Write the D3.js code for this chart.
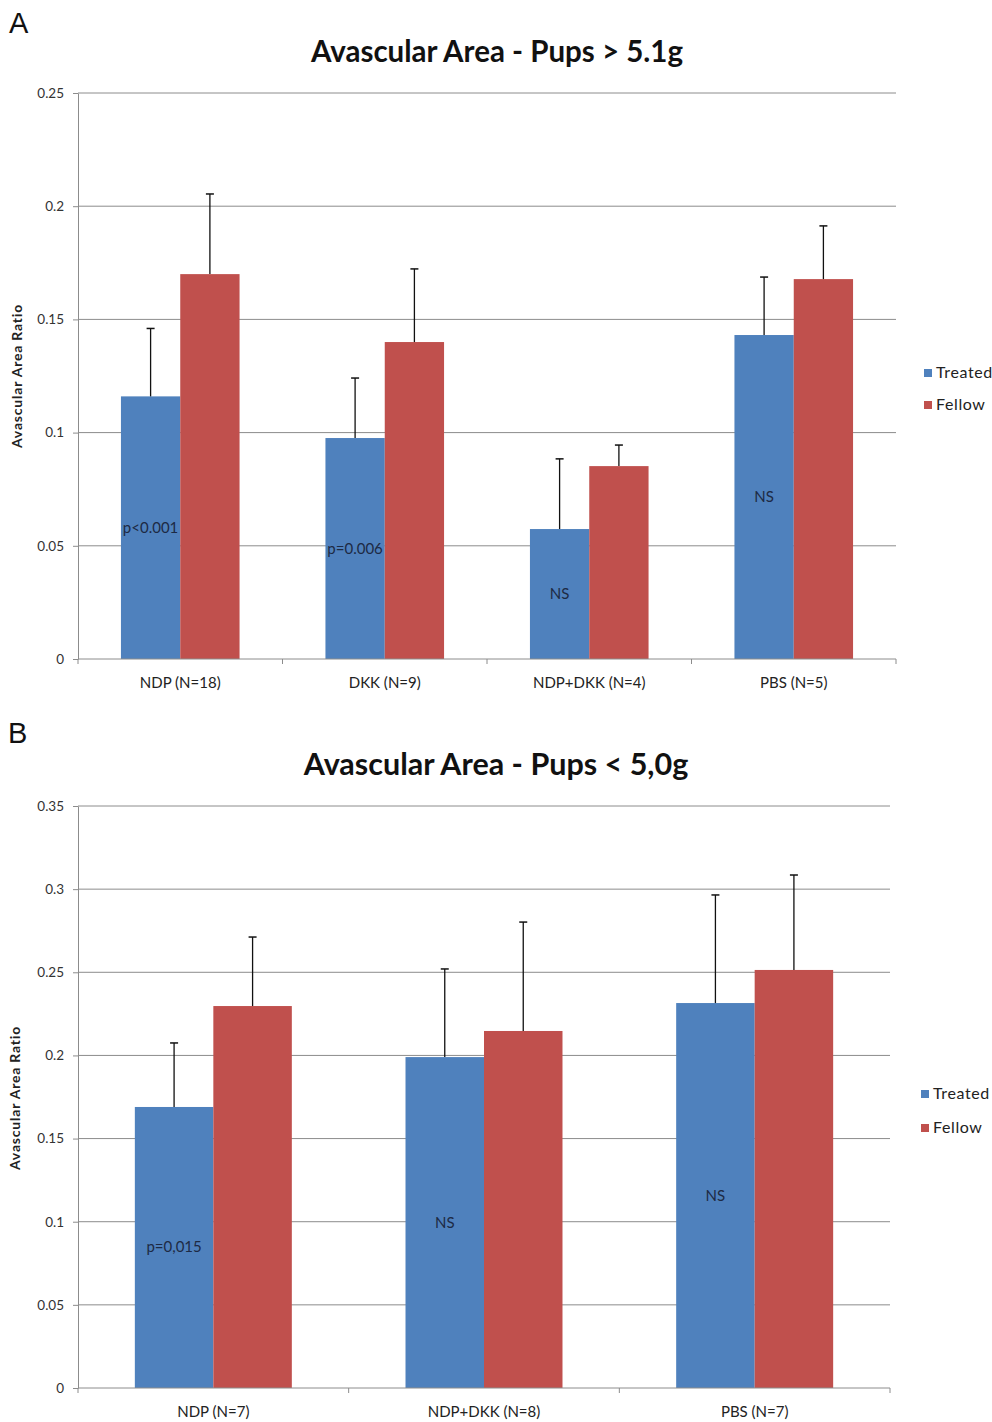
<!DOCTYPE html>
<html><head><meta charset="utf-8">
<script src="https://cdn.jsdelivr.net/npm/d3@7"></script>
<style>body{margin:0;background:#fff}</style>
</head><body>
<svg id="c" width="992" height="1422"></svg>
<script>
// ---- Data ----
const seriesNames = ["Treated", "Fellow"];
const colors = ["#4F81BD", "#C0504D"];

const catsA = ["NDP (N=18)", "DKK (N=9)", "NDP+DKK (N=4)", "PBS (N=5)"];
const treatedA = [0.116, 0.0976, 0.0574, 0.1431];
const fellowA = [0.170, 0.140, 0.0852, 0.1678];
const treatedErrA = [0.030, 0.0265, 0.031, 0.0256];
const fellowErrA = [0.0354, 0.0323, 0.0093, 0.0235];
const labelsA = ["p<0.001", "p=0.006", "NS", "NS"];
const ticksA = [0, 0.05, 0.1, 0.15, 0.2, 0.25];

const catsB = ["NDP (N=7)", "NDP+DKK (N=8)", "PBS (N=7)"];
const treatedB = [0.169, 0.199, 0.2315];
const fellowB = [0.2297, 0.2147, 0.2514];
const treatedErrB = [0.0385, 0.053, 0.065];
const fellowErrB = [0.0415, 0.0655, 0.0571];
const labelsB = ["p=0,015", "NS", "NS"];
const ticksB = [0, 0.05, 0.1, 0.15, 0.2, 0.25, 0.3, 0.35];

const svg = d3.select("#c");
const font = "Lato, 'Open Sans', sans-serif";

function panel(opt) {
  const g = svg.append("g");
  const x = d3.scaleBand().domain(opt.cats).range([opt.x0, opt.x1]).paddingInner(0.42).paddingOuter(0.21);
  const y = d3.scaleLinear().domain([0, opt.ymax]).range([opt.y0, opt.y1]);
  const s = d3.scaleBand().domain(seriesNames).range([0, x.bandwidth()]);

  g.append("text").attr("x", opt.letterX).attr("y", opt.letterY).text(opt.letter)
    .attr("font-family", "'Liberation Sans', Arial, sans-serif").attr("font-size", 29).attr("fill", "#111");
  g.append("text").attr("x", opt.titleX).attr("y", opt.titleY).attr("text-anchor", "middle")
    .text(opt.title).attr("font-family", font).attr("font-weight", "bold").attr("font-size", opt.titleSize).attr("fill", "#111");

  g.selectAll(".grid").data(opt.ticks.filter(t => t > 0)).join("line")
    .attr("x1", opt.x0).attr("x2", opt.x1).attr("y1", d => y(d)).attr("y2", d => y(d))
    .attr("stroke", "#8c8c8c").attr("stroke-width", 1);

  const ya = d3.axisLeft(y).tickValues(opt.ticks).tickFormat(d => d3.format("")(+d.toFixed(2))).tickSize(5).tickSizeOuter(0);
  const yg = g.append("g").attr("transform", `translate(${opt.x0},0)`).call(ya);
  yg.select(".domain").attr("stroke", "#8c8c8c");
  yg.selectAll(".tick line").attr("stroke", "#8c8c8c");
  yg.selectAll(".tick text").attr("font-family", font).attr("font-size", 13.5).attr("fill", "#333").attr("dx", -6);

  const data = opt.cats.map((c, i) => [
    {c, k: "Treated", v: opt.t[i], e: opt.te[i]},
    {c, k: "Fellow", v: opt.f[i], e: opt.fe[i]}]).flat();
  g.selectAll(".bar").data(data).join("rect")
    .attr("x", d => x(d.c) + s(d.k)).attr("width", s.bandwidth())
    .attr("y", d => y(d.v)).attr("height", d => y(0) - y(d.v))
    .attr("fill", d => colors[seriesNames.indexOf(d.k)]);

  const cx = d => x(d.c) + s(d.k) + s.bandwidth() / 2;
  const eb = g.selectAll(".eb").data(data).join("g");
  eb.append("line").attr("x1", cx).attr("x2", cx)
    .attr("y1", d => y(d.v)).attr("y2", d => y(d.v + d.e)).attr("stroke", "#111").attr("stroke-width", 1.3);
  eb.append("line").attr("x1", d => cx(d) - 4).attr("x2", d => cx(d) + 4)
    .attr("y1", d => y(d.v + d.e)).attr("y2", d => y(d.v + d.e)).attr("stroke", "#111").attr("stroke-width", 1.5);

  g.selectAll(".lbl").data(opt.cats).join("text")
    .attr("x", (d) => x(d) + s("Treated") + s.bandwidth() / 2)
    .attr("y", (d, i) => y(opt.t[i] / 2) + 5)
    .attr("text-anchor", "middle").text((d, i) => opt.labels[i])
    .attr("font-family", font).attr("font-size", 15).attr("fill", "#1d2a44");

  const xg = g.append("g").attr("transform", `translate(0,${opt.y0})`);
  xg.append("line").attr("x1", opt.x0).attr("x2", opt.x1).attr("stroke", "#8c8c8c");
  xg.selectAll(".xt").data(d3.range(opt.cats.length + 1)).join("line")
    .attr("x1", i => opt.x0 + i * (opt.x1 - opt.x0) / opt.cats.length)
    .attr("x2", i => opt.x0 + i * (opt.x1 - opt.x0) / opt.cats.length)
    .attr("y1", 0).attr("y2", 5).attr("stroke", "#8c8c8c");
  xg.selectAll(".xl").data(opt.cats).join("text")
    .attr("x", d => x(d) + x.bandwidth() / 2).attr("y", 29).attr("text-anchor", "middle")
    .text(d => d).attr("font-family", font).attr("font-size", 15).attr("fill", "#222");

  g.append("text").attr("transform", `translate(${opt.ytX},${opt.ytY}) rotate(-90)`).attr("text-anchor", "middle")
    .text("Avascular Area Ratio").attr("font-family", font).attr("font-weight", "bold").attr("font-size", 14)
    .attr("letter-spacing", 0.8).attr("fill", "#222");

  const lg = g.append("g");
  seriesNames.forEach((n, i) => {
    lg.append("rect").attr("x", opt.legX).attr("y", opt.legY + i * opt.legDy - 9).attr("width", 8).attr("height", 8).attr("fill", colors[i]);
    lg.append("text").attr("x", opt.legX + 12).attr("y", opt.legY + i * opt.legDy).text(n)
      .attr("font-family", font).attr("font-size", 16).attr("letter-spacing", 0.6).attr("fill", "#222");
  });
}

panel({letter: "A", letterX: 9, letterY: 33, title: "Avascular Area - Pups > 5.1g", titleX: 497, titleY: 62, titleSize: 29.5,
  cats: catsA, t: treatedA, f: fellowA, te: treatedErrA, fe: fellowErrA, labels: labelsA,
  ticks: ticksA, ymax: 0.25, x0: 78, x1: 896, y0: 659, y1: 93, ytX: 22, ytY: 376,
  legX: 924, legY: 378, legDy: 32});

panel({letter: "B", letterX: 8, letterY: 743, title: "Avascular Area - Pups < 5,0g", titleX: 496, titleY: 775, titleSize: 30.5,
  cats: catsB, t: treatedB, f: fellowB, te: treatedErrB, fe: fellowErrB, labels: labelsB,
  ticks: ticksB, ymax: 0.35, x0: 78, x1: 890, y0: 1388, y1: 806, ytX: 20, ytY: 1098,
  legX: 921, legY: 1099, legDy: 34});
</script>
</body></html>
